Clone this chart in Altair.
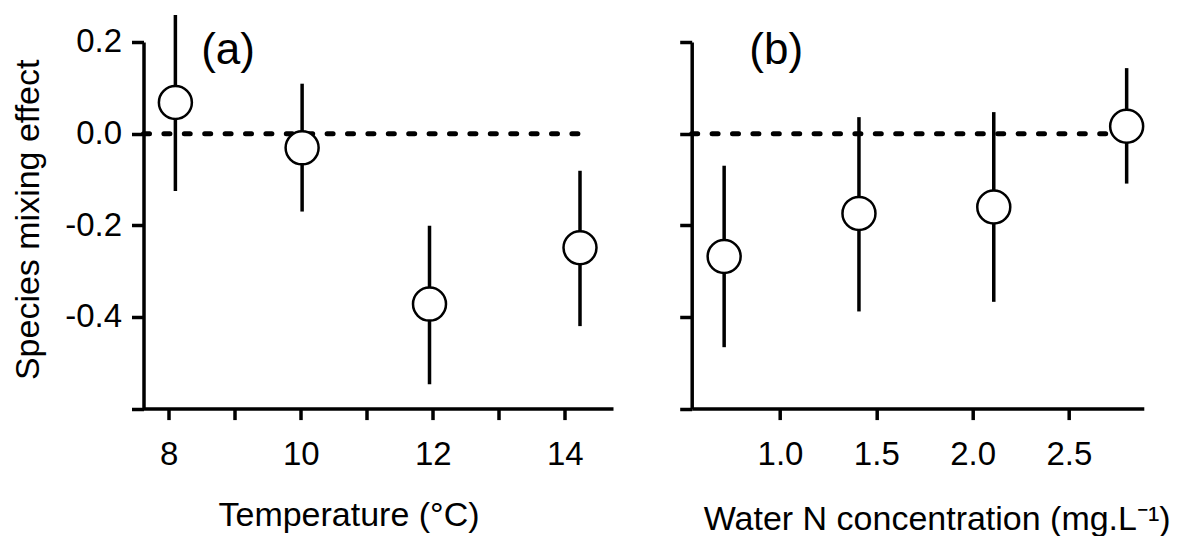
import altair as alt
import pandas as pd

# ---- Panel (a): temperature ----
temp_c = [8.1, 10.02, 11.95, 14.23]
temp_effect = [0.068, -0.031, -0.372, -0.249]
temp_low = [-0.125, -0.170, -0.547, -0.420]
temp_high = [0.259, 0.109, -0.201, -0.081]

# ---- Panel (b): water N concentration ----
n_conc = [0.71, 1.41, 2.11, 2.80]
n_effect = [-0.268, -0.174, -0.160, 0.016]
n_low = [-0.466, -0.388, -0.367, -0.109]
n_high = [-0.070, 0.036, 0.047, 0.143]

y_ticks = [-0.6, -0.4, -0.2, 0.0, 0.2]
temp_ticks = [8, 9, 10, 11, 12, 13, 14]
n_ticks = [1.0, 1.5, 2.0, 2.5]

y_domain = [-0.6, 0.2]
temp_domain = [7.617, 14.73]
n_domain = [0.5415, 2.889]

FONT = "Liberation Sans"
H = 366.6


def panel(xs, ys, lo, hi, xdom, xticks, width, label, xtitle, title_x,
          title_y, x_label_expr, show_ylab):
    df = pd.DataFrame({"x": xs, "y": ys, "lo": lo, "hi": hi})
    zero_df = pd.DataFrame({"x0": [xdom[0]], "x1": [xs[-1]], "y": [0.0]})
    xscale = alt.Scale(domain=xdom, nice=False, zero=False)
    yscale = alt.Scale(domain=y_domain, nice=False, zero=False)
    xaxis = alt.Axis(values=xticks, title=xtitle, labelExpr=x_label_expr,
                     titleX=title_x, titleY=title_y, titleAlign="center",
                     titleBaseline="alphabetic", tickSize=11, labelPadding=19)
    if show_ylab:
        yaxis = alt.Axis(values=y_ticks, title="Species mixing effect",
                         labelExpr="datum.value < -0.5 ? '' : (datum.value < 0 ? '-' : '') + format(abs(datum.value), '.1f')",
                         titleX=-105, titleY=177.3, titleAngle=270,
                         titleAlign="center", titleBaseline="alphabetic",
                         tickSize=12, labelPadding=10)
    else:
        yaxis = alt.Axis(values=y_ticks, title="", labels=False, tickSize=12)

    zero = alt.Chart(zero_df).mark_rule(
        strokeDash=[6, 14.4], strokeWidth=5, strokeCap="round", color="black"
    ).encode(
        x=alt.X("x0:Q", scale=xscale, axis=xaxis),
        x2="x1",
        y=alt.Y("y:Q", scale=yscale, axis=yaxis),
    )
    base = alt.Chart(df)
    err = base.mark_rule(strokeWidth=3.5, color="black").encode(
        x=alt.X("x:Q", scale=xscale, axis=xaxis),
        y=alt.Y("lo:Q", scale=yscale, axis=yaxis),
        y2="hi",
    )
    pts = base.mark_point(
        shape="circle", filled=True, fill="white", stroke="black",
        strokeWidth=2.5, size=1089, opacity=1, fillOpacity=1, strokeOpacity=1,
    ).encode(
        x=alt.X("x:Q", scale=xscale, axis=xaxis),
        y=alt.Y("y:Q", scale=yscale, axis=yaxis),
    )
    lab = alt.Chart(pd.DataFrame({"t": [label]})).mark_text(
        fontSize=44, align="center", baseline="alphabetic", font=FONT,
        color="black",
    ).encode(text="t:N", x=alt.value(84.5), y=alt.value(22))
    return alt.layer(zero, err, pts, lab).properties(width=width, height=H)


pa = panel(temp_c, temp_effect, temp_low, temp_high, temp_domain, temp_ticks,
           469.5, "(a)", "Temperature (°C)", 205, 116.7,
           "datum.value % 2 == 0 ? format(datum.value, 'd') : ''", True)
pb = panel(n_conc, n_effect, n_low, n_high, n_domain, n_ticks,
           452.1, "(b)", "Water N concentration (mg.L⁻¹)", 245, 121,
           "format(datum.value, '.1f')", False)

chart = alt.hconcat(pa, pb, spacing=78.2, bounds="flush").properties(
    padding={"left": 3.5, "top": 5, "right": 0, "bottom": 0},
    background="white",
).configure_view(stroke=None).configure_axis(
    grid=False,
    domainColor="black", domainWidth=3.5,
    tickColor="black", tickWidth=3.5,
    labelColor="black", labelFont=FONT, labelFontSize=33,
    titleColor="black", titleFont=FONT, titleFontSize=34,
    titleFontWeight="normal",
).configure_text(font=FONT)

chart.save("out.html", embed_options={"renderer": "svg", "actions": False})
